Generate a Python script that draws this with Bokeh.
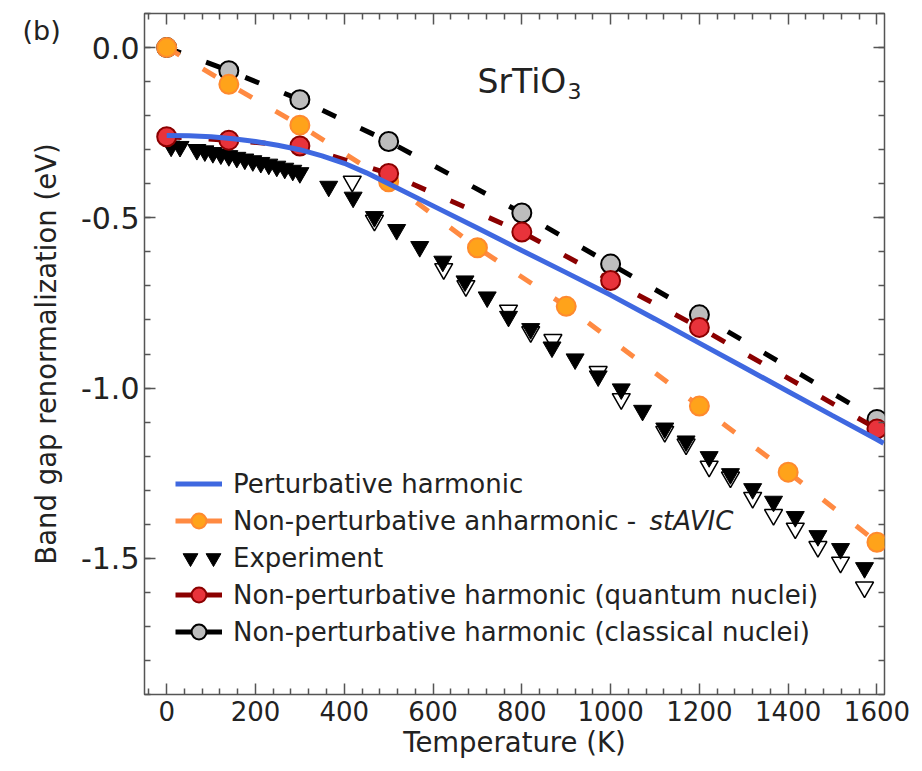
from bokeh.plotting import figure
from bokeh.models import (Range1d, LinearAxis, FixedTicker, NumeralTickFormatter,
                          Legend, LegendItem, Label)
from bokeh.embed import file_html
from bokeh.resources import INLINE

FONT = "DejaVu Sans"
TEXT_COLOR = "#222222"
FRAME_COLOR = "#555555"
NAN = float("nan")

# ---------------- data ----------------
x_major_ticks = [0, 200, 400, 600, 800, 1000, 1200, 1400, 1600]
x_minor_ticks = [t for t in range(-40, 1641, 40) if t % 200 != 0]
y_major_ticks = [0.0, -0.5, -1.0, -1.5]
y_minor_ticks = [round(-1.9 + 0.1 * i, 1) for i in range(21)]

# Perturbative harmonic (solid blue curve)
temp_pert = [0, 50, 100, 150, 200, 250, 300, 350, 400, 450, 500, 600, 700, 800,
             900, 1000, 1100, 1200, 1300, 1400, 1500, 1600, 1615]
gap_pert = [-0.258, -0.259, -0.262, -0.268, -0.276, -0.287, -0.300, -0.318, -0.340,
            -0.368, -0.400, -0.465, -0.530, -0.596, -0.661, -0.727, -0.797, -0.868,
            -0.939, -1.010, -1.081, -1.151, -1.162]

# Non-perturbative anharmonic - stAVIC (orange)
temp_stavic = [0, 140, 300, 500, 700, 900, 1200, 1400, 1600]
gap_stavic = [0.0, -0.108, -0.228, -0.394, -0.588, -0.760, -1.053, -1.247, -1.453]

# Non-perturbative harmonic, quantum nuclei (red / dark red)
temp_quantum = [0, 140, 300, 500, 800, 1000, 1200, 1600]
gap_quantum = [-0.262, -0.272, -0.289, -0.370, -0.542, -0.684, -0.822, -1.120]

# Non-perturbative harmonic, classical nuclei (gray / black)
temp_classical = [0, 140, 300, 500, 800, 1000, 1200, 1600]
gap_classical = [0.0, -0.068, -0.153, -0.276, -0.486, -0.636, -0.785, -1.092]

# Experiment (filled triangles)
temp_exp = [10, 30, 68, 86, 104, 122, 140, 158, 176, 194, 212, 230, 248, 266, 284, 300,
            365, 420, 468, 518, 570, 622, 672, 722, 770, 820, 868, 920, 972, 1024,
            1072, 1122, 1170, 1222, 1270, 1320, 1367, 1416, 1467, 1518, 1572]
gap_exp = [-0.290, -0.291, -0.300, -0.304, -0.309, -0.313, -0.318, -0.323, -0.328,
           -0.333, -0.338, -0.343, -0.349, -0.355, -0.361, -0.368,
           -0.408, -0.440, -0.497, -0.535, -0.585, -0.628, -0.686, -0.733, -0.790,
           -0.826, -0.880, -0.915, -0.965, -1.003, -1.066, -1.118, -1.156, -1.202,
           -1.252, -1.296, -1.333, -1.378, -1.434, -1.472, -1.528]

# Experiment (open triangles)
temp_exp_open = [418, 468, 624, 674, 770, 820, 870, 972, 1024, 1122, 1170, 1222,
                 1270, 1320, 1367, 1416, 1467, 1518, 1572]
gap_exp_open = [-0.393, -0.508, -0.650, -0.700, -0.772, -0.835, -0.858, -0.952,
                -1.032, -1.128, -1.165, -1.230, -1.262, -1.322, -1.372, -1.412,
                -1.466, -1.512, -1.585]

# ---------------- figure ----------------
p = figure(width=922, height=771, x_range=Range1d(-50, 1617), y_range=Range1d(-1.9, 0.1),
           output_backend="svg", toolbar_location=None,
           min_border_left=144, min_border_right=37, min_border_top=13, min_border_bottom=77,
           x_axis_label="Temperature (K)", y_axis_label="Band gap renormalization (eV)")
p.xgrid.visible = False
p.ygrid.visible = False
p.background_fill_color = "white"
p.border_fill_color = "white"
p.outline_line_color = FRAME_COLOR
p.outline_line_width = 1.5


def style_axis(ax, ticks, minor, labels, label_size="26px"):
    ax.ticker = FixedTicker(ticks=ticks, minor_ticks=minor)
    ax.axis_line_color = None
    ax.major_tick_in = 11
    ax.major_tick_out = 0
    ax.minor_tick_in = 6
    ax.minor_tick_out = 0
    ax.major_tick_line_color = FRAME_COLOR
    ax.minor_tick_line_color = FRAME_COLOR
    ax.major_tick_line_width = 1.5
    ax.minor_tick_line_width = 1.5
    if labels:
        ax.major_label_text_font = FONT
        ax.major_label_text_font_size = label_size
        ax.major_label_text_color = TEXT_COLOR
        ax.axis_label_text_font = FONT
        ax.axis_label_text_font_size = "27.5px"
        ax.axis_label_text_font_style = "normal"
        ax.axis_label_text_color = TEXT_COLOR
    else:
        ax.major_label_text_font_size = "1px"
        ax.major_label_standoff = 0
        try:
            ax.major_label_text_color = None
        except Exception:
            ax.major_label_overrides = {t: "" for t in ticks}


xb = p.xaxis[0]
yl = p.yaxis[0]
style_axis(xb, x_major_ticks, x_minor_ticks, True, "26px")
style_axis(yl, y_major_ticks, y_minor_ticks, True, "30px")
xb.major_label_standoff = 6
xb.axis_label_standoff = 2
yl.major_label_standoff = 5
yl.axis_label_standoff = 16
yl.formatter = NumeralTickFormatter(format="0.0")

top_ax = LinearAxis()
style_axis(top_ax, x_major_ticks, x_minor_ticks, False)
p.add_layout(top_ax, "above")
right_ax = LinearAxis()
style_axis(right_ax, y_major_ticks, y_minor_ticks, False)
p.add_layout(right_ax, "right")

# ---------------- colours ----------------
BLUE = "#3f68e0"
ORANGE_LINE = "#ff8a42"
ORANGE_FILL = "#ffa31a"
ORANGE_EDGE = "#ff8a2e"
DARKRED = "#8b0000"
RED_FILL = "#e8333b"
GRAY_FILL = "#bdbdbd"
DASH = "15 27"

# ---------------- data renderers ----------------
exp_open = p.scatter(temp_exp_open, gap_exp_open, marker="inverted_triangle", size=18,
                     fill_color="white", line_color="black", line_width=1.5)
exp_filled = p.scatter(temp_exp, gap_exp, marker="inverted_triangle", size=18,
                       fill_color="black", line_color="black", line_width=1)

cl_line = p.line(temp_classical, gap_classical, line_color="black", line_width=5,
                 line_dash=DASH)
cl_pts = p.scatter(temp_classical, gap_classical, marker="circle", size=19,
                   fill_color=GRAY_FILL, line_color="black", line_width=2)

st_line = p.line(temp_stavic, gap_stavic, line_color=ORANGE_LINE, line_width=5,
                 line_dash=DASH)
st_pts = p.scatter(temp_stavic, gap_stavic, marker="circle", size=19,
                   fill_color=ORANGE_FILL, line_color=ORANGE_EDGE, line_width=2)

qn_line = p.line(temp_quantum, gap_quantum, line_color=DARKRED, line_width=5,
                 line_dash=DASH)
qn_pts = p.scatter(temp_quantum, gap_quantum, marker="circle", size=19,
                   fill_color=RED_FILL, line_color=DARKRED, line_width=2)

pert_line = p.line(temp_pert, gap_pert, line_color=BLUE, line_width=5)

# legend-only renderers (a single NaN point, never visible in the plot)
leg_orange = p.line([NAN], [NAN], line_color=ORANGE_LINE, line_width=5)
leg_darkred = p.line([NAN], [NAN], line_color=DARKRED, line_width=5)
leg_black = p.line([NAN], [NAN], line_color="black", line_width=5)
leg_blank = p.scatter([], [], marker="circle", size=1, fill_alpha=0, line_alpha=0)

legend_common = dict(padding=0, margin=0, border_line_color=None, background_fill_alpha=0)

legend_a = Legend(items=[
    LegendItem(label="Perturbative harmonic", renderers=[pert_line]),
    LegendItem(label="Non-perturbative anharmonic - ", renderers=[leg_orange, st_pts]),
    LegendItem(label="Experiment", renderers=[leg_blank]),
    LegendItem(label="Non-perturbative harmonic (quantum nuclei)", renderers=[leg_darkred, qn_pts]),
    LegendItem(label="Non-perturbative harmonic (classical nuclei)", renderers=[leg_black, cl_pts]),
], location=(31, 44), orientation="vertical", glyph_width=47, glyph_height=37,
    label_height=37, spacing=0, label_standoff=11, label_text_font=FONT,
    label_text_font_size="26px", label_text_color=TEXT_COLOR, **legend_common)
p.add_layout(legend_a)

# the two triangles of the "Experiment" entry
for xoff in (27, 50):
    p.add_layout(Legend(items=[LegendItem(label="", renderers=[exp_filled])],
                        location=(xoff, 118), glyph_width=38, glyph_height=37,
                        label_width=0, label_height=0, label_standoff=0,
                        label_text_font_size="1px", **legend_common))

# italic part of the second legend entry
p.add_layout(Label(x=505, y=174, x_units="screen", y_units="screen", text="stAVIC",
                   text_font=FONT, text_font_size="26px", text_font_style="italic",
                   text_color=TEXT_COLOR, text_baseline="middle", text_align="left"))

# compound label
p.add_layout(Label(x=333, y=613, x_units="screen", y_units="screen", text="SrTiO",
                   text_font=FONT, text_font_size="33px", text_color=TEXT_COLOR,
                   text_baseline="middle", text_align="left"))
p.add_layout(Label(x=423, y=604, x_units="screen", y_units="screen", text="3",
                   text_font=FONT, text_font_size="22px", text_color=TEXT_COLOR,
                   text_baseline="middle", text_align="left"))

# panel label (placed in the right side panel so that it is not clipped to the frame)
p.add_layout(Label(x=-862, y=664, x_units="screen", y_units="screen", text="(b)",
                   text_font=FONT, text_font_size="27px", text_color=TEXT_COLOR,
                   text_baseline="middle", text_align="left"), "right")

open("out.html", "w").write(file_html(p, INLINE))
